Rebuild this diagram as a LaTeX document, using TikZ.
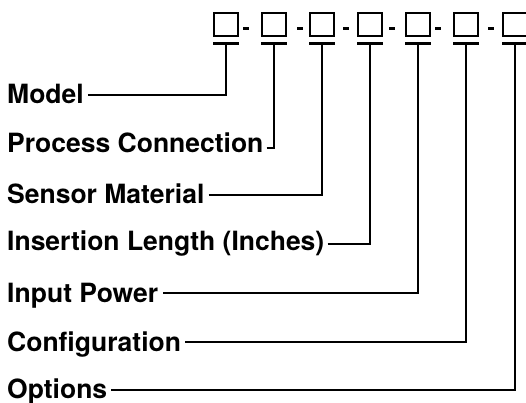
\documentclass[tikz,border=0pt]{standalone}
\usepackage{fontspec}
\setmainfont{TeX Gyre Heros}
\begin{document}
\begin{tikzpicture}[x=1pt,y=-1pt,
  codebox/.style={draw=black,line width=2pt,minimum width=24.5pt,minimum height=23.5pt,inner sep=0pt,fill=white},
  codebar/.style={fill=black,minimum width=26pt,minimum height=2.8pt,inner sep=0pt,outer sep=0pt},
  codedash/.style={fill=black,minimum width=6pt,minimum height=3.4pt,inner sep=0pt},
  lbl/.style={anchor=base west,inner sep=0pt,font=\fontsize{26.5}{30}\selectfont\bfseries},
  conn/.style={draw=black,line width=1.7pt}]
\useasboundingbox (0,0) rectangle (526,403);
% boxes
\foreach \i/\x in {0/226,1/274,2/322,3/370,4/418,5/466,6/515}{
  \node[codebox] (b\i) at (\x,24.5) {};
  \node[codebar] (bar\i) at (\x,43.5) {};
}
\foreach \j/\x in {0/246,1/300,2/345.5,3/391.5,4/437.5,5/490.5}{
  \node[codedash] (d\j) at (\x,28.5) {};
}
% labels
\node[lbl] (l0) at (7,104) {Model};
\node[lbl] (l1) at (7,153) {Process Connection};
\node[lbl] (l2) at (7,203) {Sensor Material};
\node[lbl] (l3) at (7,250) {Insertion Length (Inches)};
\node[lbl] (l4) at (7,302) {Input Power};
\node[lbl] (l5) at (7,351) {Configuration};
\node[lbl] (l6) at (7,398) {Options};
% connectors
\draw[conn] ([xshift=4pt,yshift=9pt]l0.base east) -| (bar0.south);
\draw[conn] ([xshift=3pt,yshift=5pt]l1.base east) -| (bar1.south);
\draw[conn] ([xshift=4pt,yshift=8pt]l2.base east) -| (bar2.south);
\draw[conn] ([xshift=3pt,yshift=6pt]l3.base east) -| (bar3.south);
\draw[conn] ([xshift=5pt,yshift=9pt]l4.base east) -| (bar4.south);
\draw[conn] ([xshift=4pt,yshift=9pt]l5.base east) -| (bar5.south);
\draw[conn] ([xshift=4pt,yshift=8pt]l6.base east) -| (bar6.south);
\end{tikzpicture}
\end{document}
